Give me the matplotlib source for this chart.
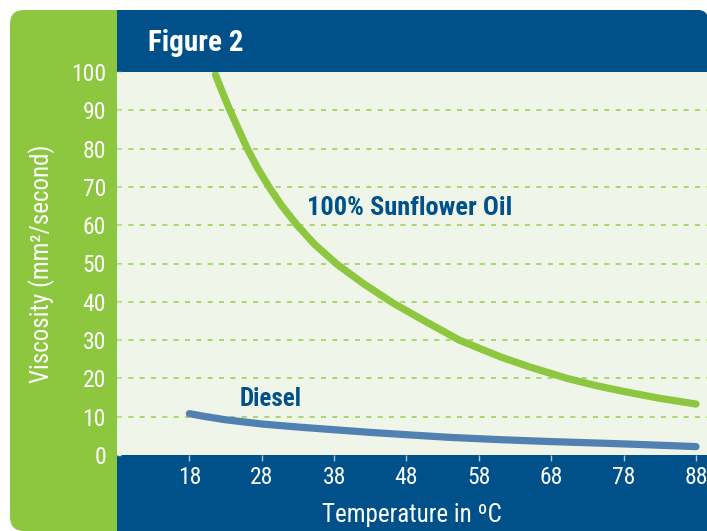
import matplotlib
matplotlib.use("Agg")
import matplotlib.pyplot as plt
from matplotlib import font_manager
from matplotlib.patches import FancyBboxPatch, Rectangle

# the original uses a condensed sans; take the first narrow family that is installed
available = {f.name for f in font_manager.fontManager.ttflist}
narrow = next((n for n in ['Liberation Sans Narrow', 'Roboto Condensed', 'Archivo Narrow',
                           'Liberation Sans'] if n in available), 'DejaVu Sans')
plt.rcParams['font.family'] = [narrow, 'DejaVu Sans']

# data
oil_temp = [21.6, 22.5, 23.6, 24.8, 26.0, 27.4, 29.0, 30.8, 32.8, 35.3, 38.4, 42.0,
            46.2, 50.5, 55.3, 61.0, 65.0, 70.2, 74.0, 78.0, 83.0, 88.0]
oil_visc = [99.3, 95.0, 90.0, 85.0, 80.0, 75.0, 70.0, 65.0, 60.2, 55.0, 49.8, 44.8,
            39.6, 35.0, 30.0, 25.6, 23.0, 20.0, 18.2, 16.6, 14.8, 13.3]
diesel_temp = [18, 20, 23, 28, 33, 38, 43, 48, 54, 61, 68, 78, 88]
diesel_visc = [10.8, 10.1, 9.2, 8.1, 7.3, 6.6, 5.9, 5.3, 4.6, 4.0, 3.5, 2.9, 2.2]
x_ticks = [18, 28, 38, 48, 58, 68, 78, 88]
y_ticks = [0, 10, 20, 30, 40, 50, 60, 70, 80, 90, 100]

GREEN = '#8DC63F'
NAVY = '#00518A'
DIESEL = '#5181B2'
PLOT_BG = '#EFF5E8'

W, H = 707, 531
fig = plt.figure(figsize=(W / 100, H / 100), dpi=100)

# background panels, drawn in pixel units
bg = fig.add_axes([0, 0, 1, 1], zorder=0)
bg.set_xlim(0, W)
bg.set_ylim(H, 0)
bg.axis('off')
bg.add_patch(FancyBboxPatch((60, 10), 648, 560, boxstyle="round,pad=0,rounding_size=10",
                            fc=NAVY, ec='none', zorder=0))
bg.add_patch(FancyBboxPatch((10, 10), 90, 521, boxstyle="round,pad=0,rounding_size=14",
                            fc=GREEN, ec='none', zorder=1))
bg.add_patch(Rectangle((50, 10), 67, 521, fc=GREEN, ec='none', zorder=1))
bg.text(148, 43, 'Figure 2', color='white', fontsize=21, fontweight='bold',
        ha='left', va='center')

ax = fig.add_axes([117 / W, (H - 455) / H, (W - 117) / W, (455 - 72) / H], zorder=1)
ax.set_facecolor(PLOT_BG)
for s in ax.spines.values():
    s.set_visible(False)

for y in y_ticks[1:-1]:
    ax.axhline(y, color='#9ED15A', lw=1.2, linestyle=(0, (3.0, 3.8)), zorder=1)

ax.plot(oil_temp, oil_visc, color=GREEN, lw=5.2, solid_capstyle='round',
        solid_joinstyle='round', zorder=3)
ax.plot(diesel_temp, diesel_visc, color=DIESEL, lw=5.2, solid_capstyle='round',
        solid_joinstyle='round', zorder=3)

ax.text(34.2, 64.6, '100% Sunflower Oil', color=NAVY, fontsize=19, fontweight='bold',
        ha='left', va='center')
ax.text(24.9, 14.7, 'Diesel', color=NAVY, fontsize=18, fontweight='bold',
        ha='left', va='center')

ax.set_xlim(8.0, 89.52)
ax.set_ylim(0, 100)
ax.set_xticks(x_ticks)
ax.set_yticks(y_ticks)
ax.tick_params(axis='x', direction='out', length=4, width=1, color='#A9C4D6',
               labelcolor='white', labelsize=17, pad=4)
ax.tick_params(axis='y', direction='in', length=3, width=1, color='#D5E6C4',
               labelcolor='white', labelsize=17, pad=8)

ax.set_xlabel('Temperature in ºC', color='white', fontsize=18, labelpad=10)
fig.text(42 / W, 1 - 264 / H, 'Viscosity (mm²/second)', color='white', fontsize=18,
         rotation=90, ha='center', va='center')

fig.savefig('out.png', dpi=100)
